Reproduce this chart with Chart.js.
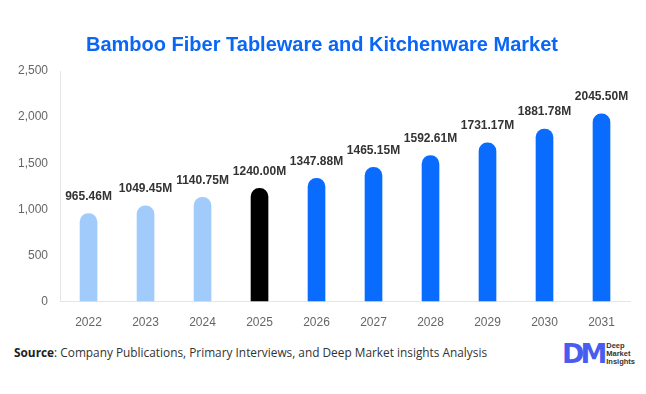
<!DOCTYPE html>
<html>
<head>
<meta charset="utf-8">
<script src="https://cdn.jsdelivr.net/npm/chart.js@4.4.1/dist/chart.umd.min.js"></script>
<style>
  html, body { margin: 0; padding: 0; background: #fff; }
  #wrap { position: relative; width: 646px; height: 394px; }
  #box { position: absolute; left: 0; top: 0; width: 646px; height: 336px; }
  #source { position: absolute; left: 14px; top: 344px; font: 11.85px "Open Sans", sans-serif; color: #333; }
  #source b { font-weight: 700; color: #222; }
  #logo { position: absolute; left: 562px; top: 340px; display: flex; align-items: center; }
  #logo .dm { font: 900 27px "DejaVu Sans", sans-serif; color: #4a5cf0; letter-spacing: -4px; line-height: 28px; }
  #logo .txt { font: 700 7.5px "Liberation Sans", sans-serif; color: #333; line-height: 8px; margin-left: 3px; }
</style>
</head>
<body>
<div id="wrap">
  <div id="box"><canvas id="grafico"></canvas></div>
  <div id="source"><b>Source</b>: Company Publications, Primary Interviews, and Deep Market insights Analysis</div>
  <div id="logo"><span class="dm">DM</span><span class="txt">Deep<br>Market<br>Insights</span></div>
</div>
<script>
const anos = ["2022", "2023", "2024", "2025", "2026", "2027", "2028", "2029", "2030", "2031"];
const valores = [965.46, 1049.45, 1140.75, 1240.00, 1347.88, 1465.15, 1592.61, 1731.17, 1881.78, 2045.50];
const cores = ["#a0cbfb", "#a0cbfb", "#a0cbfb", "#000000", "#0a6cff", "#0a6cff", "#0a6cff", "#0a6cff", "#0a6cff", "#0a6cff"];

// escreve o valor em cima de cada barra
const rotulos = {
  id: "rotulos",
  afterDatasetsDraw(chart) {
    const { ctx } = chart;
    const meta = chart.getDatasetMeta(0);
    ctx.save();
    ctx.font = "bold 12px 'Liberation Sans', Arial, sans-serif";
    ctx.fillStyle = "#333";
    ctx.textAlign = "center";
    ctx.textBaseline = "bottom";
    meta.data.forEach((bar, i) => {
      ctx.fillText(valores[i].toFixed(2) + "M", bar.x, bar.y - 10);
    });
    ctx.restore();
  },
};

new Chart(document.getElementById("grafico"), {
  type: "bar",
  data: {
    labels: anos,
    datasets: [
      {
        data: valores,
        backgroundColor: cores,
        borderColor: "rgba(255,255,255,0.5)",
        borderWidth: 1,
        borderSkipped: "bottom",
        borderRadius: { topLeft: 10, topRight: 10 },
        barThickness: 19,
      },
    ],
  },
  options: {
    responsive: true,
    maintainAspectRatio: false,
    animation: false,
    layout: { padding: { left: 14, right: 16, top: 0, bottom: 0 } },
    plugins: {
      legend: { display: false },
      tooltip: { enabled: false },
      title: {
        display: true,
        text: "Bamboo Fiber Tableware and Kitchenware Market",
        color: "#0a66f5",
        font: { size: 20, weight: "bold", family: "'Liberation Sans', Arial, sans-serif" },
        padding: { top: 33, bottom: 14 },
      },
    },
    scales: {
      y: {
        min: 0,
        max: 2500,
        ticks: {
          stepSize: 500,
          color: "#666",
          font: { size: 12, family: "'Liberation Sans', Arial, sans-serif" },
          padding: 4,
        },
        grid: { display: false },
        border: { display: true, color: "#e5e5e5" },
      },
      x: {
        ticks: {
          color: "#666",
          font: { size: 12, family: "'Liberation Sans', Arial, sans-serif" },
          padding: 6,
        },
        grid: { display: false },
        border: { display: true, color: "#e5e5e5" },
      },
    },
  },
  plugins: [rotulos],
});
</script>
</body>
</html>
